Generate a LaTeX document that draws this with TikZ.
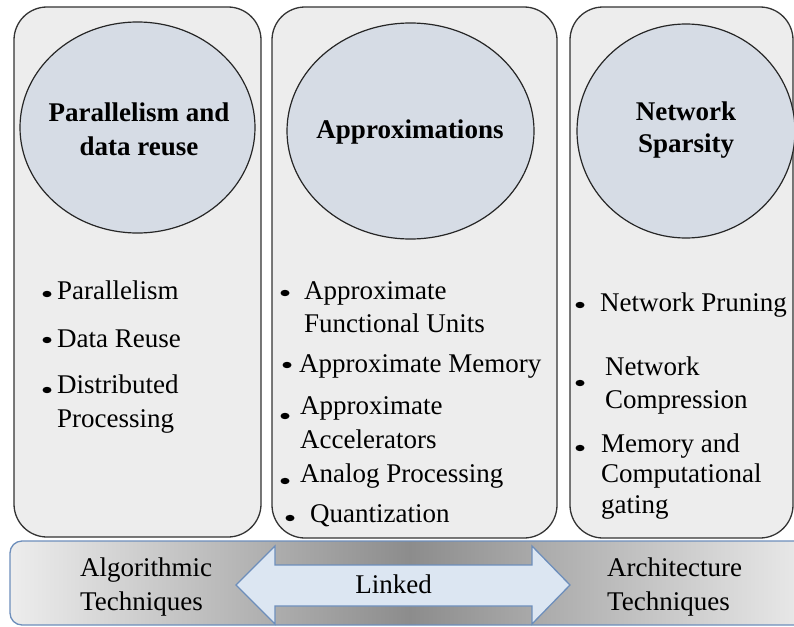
\documentclass[tikz,border=0pt]{standalone}
\usepackage{fontspec}
\setmainfont{Liberation Serif}
\usetikzlibrary{shapes.geometric}
\definecolor{panelfill}{HTML}{EDEDED}
\definecolor{bubblefill}{HTML}{D6DCE5}
\definecolor{steel}{HTML}{6D8EBB}
\definecolor{arrowfill}{HTML}{DCE6F2}
\begin{document}
\begin{tikzpicture}[x=1pt,y=-1pt,
  panel/.style={draw=black!80, line width=1.3pt, fill=panelfill,
    rounded corners=33pt, inner sep=0pt},
  bubble/.style={ellipse, draw=black!85, line width=1.2pt, fill=bubblefill,
    inner sep=0pt},
  heading/.style={font=\fontsize{27}{34}\selectfont\bfseries, align=center,
    inner sep=0pt, anchor=base},
  item/.style={font=\fontsize{27}{33}\selectfont, align=left,
    inner sep=0pt, anchor=base west},
  dot/.style={fill=black},
  band/.style={draw=steel, line width=1.3pt, rounded corners=12pt,
    left color=black!7, right color=black!8, middle color=black!45,
    inner sep=0pt},
  linkarrow/.style={draw=steel, line width=1.3pt, fill=arrowfill,
    line join=miter},
  tag/.style={font=\fontsize{27}{34}\selectfont, align=left,
    inner sep=0pt, anchor=base west}]
\useasboundingbox (0,0) rectangle (794,626);
\clip (0,0) rectangle (794,626);

% three technique panels
\node[panel, minimum width=247pt, minimum height=530pt] (p1) at (137.5,272) {};
\node[panel, minimum width=285pt, minimum height=531pt] (p2) at (414.5,272.5) {};
\node[panel, minimum width=223pt, minimum height=531pt] (p3) at (681.5,272.5) {};

% headline bubbles
\node[bubble, minimum width=235pt, minimum height=211pt] (b1) at (137.5,127.5) {};
\node[bubble, minimum width=247pt, minimum height=216pt] (b2) at (410.5,131) {};
\node[bubble, minimum width=218pt, minimum height=214pt] (b3) at (686,131) {};

% multi-line texts are placed by the baseline of their last line
\node[heading] (h1) at (139,155) {Parallelism and\\data reuse};
\node[heading] (h2) at (410,138) {Approximations};
\node[heading, font=\fontsize{27}{32}\selectfont\bfseries] (h3) at (686,152) {Network\\Sparsity};

% left panel items
\fill[dot] (47,294) ellipse [x radius=4.5, y radius=3.2];
\fill[dot] (47,340) ellipse [x radius=4.5, y radius=3.2];
\fill[dot] (47,390) ellipse [x radius=4.5, y radius=3.2];
\node[item] (l1) at (57,299) {Parallelism};
\node[item] (l2) at (57,347) {Data Reuse};
\node[item, font=\fontsize{27}{34}\selectfont] (l3) at (57,427) {Distributed\\Processing};

% middle panel items
\fill[dot] (285,293) ellipse [x radius=4.5, y radius=3.2];
\fill[dot] (287,365) ellipse [x radius=4.5, y radius=3.2];
\fill[dot] (285,416) ellipse [x radius=4.5, y radius=3.2];
\fill[dot] (285,481) ellipse [x radius=4.5, y radius=3.2];
\fill[dot] (290,518) ellipse [x radius=4.5, y radius=3.2];
\node[item] (m1) at (304,332) {Approximate\\Functional Units};
\node[item] (m2) at (299,372) {Approximate Memory};
\node[item, font=\fontsize{27}{34}\selectfont] (m3) at (300,448) {Approximate\\Accelerators};
\node[item] (m4) at (300,482) {Analog Processing};
\node[item] (m5) at (310,522) {Quantization};

% right panel items
\fill[dot] (580,305) ellipse [x radius=4.5, y radius=3.2];
\fill[dot] (580,383) ellipse [x radius=4.5, y radius=3.2];
\fill[dot] (580,448) ellipse [x radius=4.5, y radius=3.2];
\node[item] (r1) at (600,311) {Network Pruning};
\node[item] (r2) at (605,408) {Network\\Compression};
\node[item, font=\fontsize{27}{30.5}\selectfont] (r3) at (601,513) {Memory and\\Computational\\gating};

% bottom band with the linking arrow
\node[band, minimum width=800pt, minimum height=84pt] (band) at (410,583) {};
\draw[linkarrow] (236,585) -- (275,546) -- (275,565) -- (532,565) -- (532,546)
  -- (570,585) -- (532,624) -- (532,606) -- (275,606) -- (275,624) -- cycle;
\node[tag] (alg) at (80,610) {Algorithmic\\Techniques};
\node[tag] (arch) at (607,610) {Architecture\\Techniques};
\node[font=\fontsize{27}{34}\selectfont, inner sep=0pt, anchor=base] (link) at (393.5,593) {Linked};
\end{tikzpicture}
\end{document}
